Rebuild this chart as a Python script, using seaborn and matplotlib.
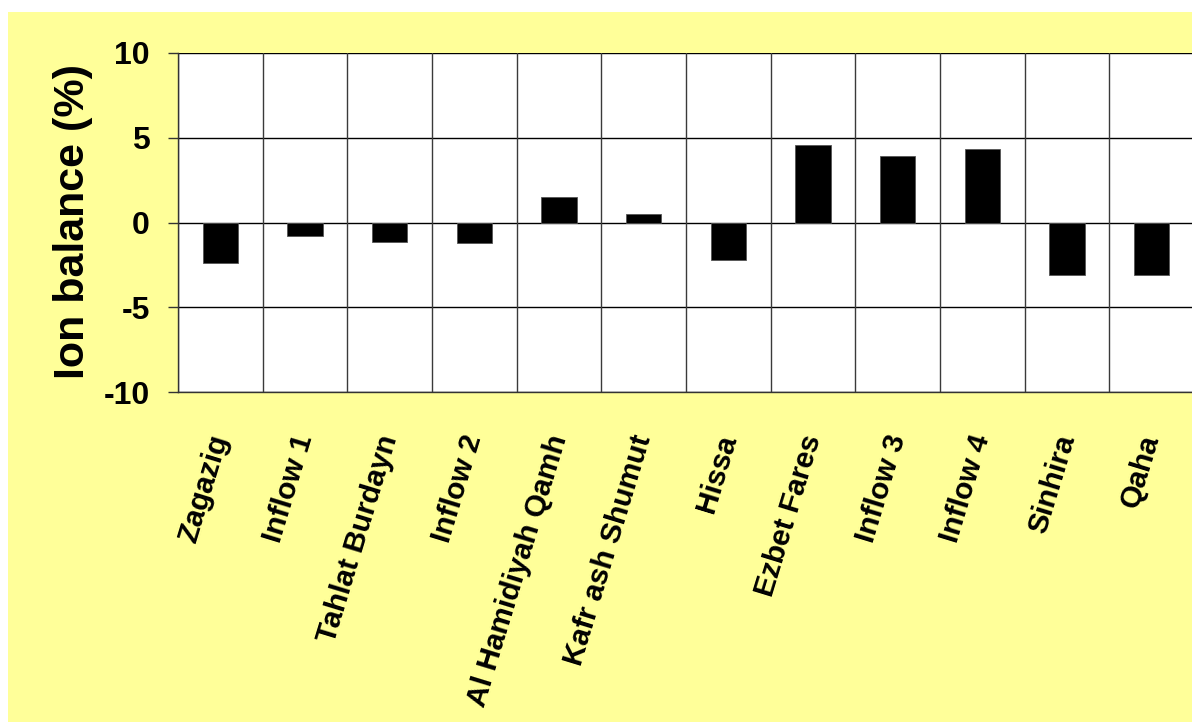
import matplotlib
matplotlib.use("Agg")
import matplotlib.pyplot as plt
from matplotlib.patches import Rectangle
from matplotlib.ticker import FixedLocator, NullFormatter
import seaborn as sns
import pandas as pd

# Ion balance per sampling site
sites = ["Zagazig", "Inflow 1", "Tahlat Burdayn", "Inflow 2", "Al Hamidiyah Qamh",
         "Kafr ash Shumut", "Hissa", "Ezbet Fares", "Inflow 3", "Inflow 4",
         "Sinhira", "Qaha"]
ion_balance = [-2.4, -0.8, -1.15, -1.2, 1.5, 0.5, -2.2, 4.55, 3.9, 4.35, -3.1, -3.1]
y_ticks = [-10, -5, 0, 5, 10]

df = pd.DataFrame({"site": sites, "balance": ion_balance})

sns.set_style("white")
plt.rcParams["font.family"] = ["Liberation Sans", "DejaVu Sans"]
plt.rcParams.update({"text.color": "black", "axes.labelcolor": "black",
                     "xtick.color": "black", "ytick.color": "black"})

W, H = 1192, 722
fig = plt.figure(figsize=(W / 100, H / 100), dpi=100, facecolor="white")

# pale yellow chart area
fig.patches.append(Rectangle((8 / W, 0), 1, 1 - 12 / H, transform=fig.transFigure,
                             facecolor="#FFFF99", edgecolor="none", zorder=-10))

left, right, top, bottom = 178, 1194, 52.7, 392.3
ax = fig.add_axes([left / W, 1 - bottom / H, (right - left) / W, (bottom - top) / H])
ax.set_facecolor("white")

sns.barplot(data=df, x="site", y="balance", color="black", width=0.42,
            edgecolor="#555555", linewidth=0.6, saturation=1, ax=ax, zorder=3)

ax.set_ylim(-10, 10)
ax.set_xlim(-0.5, len(sites) - 0.5)
ax.set_yticks(y_ticks)
ax.set_yticklabels([str(v) for v in y_ticks], fontsize=23, fontweight="bold", color="black")

# horizontal grid
for v in y_ticks:
    ax.axhline(v, color="black", lw=1.0, zorder=2)
# category separators
for i in range(len(sites) + 1):
    ax.axvline(i - 0.5, color="#3a3a3a", lw=1.0, zorder=2)

ax.xaxis.set_minor_locator(FixedLocator([i - 0.5 for i in range(len(sites) + 1)]))
ax.xaxis.set_minor_formatter(NullFormatter())
ax.tick_params(axis="x", which="minor", direction="out", length=7.2, width=1, color="#333333")
ax.tick_params(axis="x", which="major", length=0, pad=31, labelcolor="black")
ax.tick_params(axis="y", direction="out", length=7.2, width=1, color="#333333", pad=13,
               left=True, labelcolor="black")

ax.set_xticks(range(len(sites)))
ax.set_xticklabels(sites, fontsize=21.5, fontweight="bold", rotation=73, color="black",
                   ha="right", va="center", rotation_mode="anchor")

ax.set_xlabel("")
ax.set_ylabel("Ion balance (%)", fontsize=31, fontweight="bold", color="black")
ax.yaxis.set_label_coords(-0.084, 0.503)

for s in ["top", "right"]:
    ax.spines[s].set_visible(False)
for s in ["left", "bottom"]:
    ax.spines[s].set_color("#333333")
    ax.spines[s].set_linewidth(1.0)

fig.savefig("out.png", dpi=100, facecolor=fig.get_facecolor())
